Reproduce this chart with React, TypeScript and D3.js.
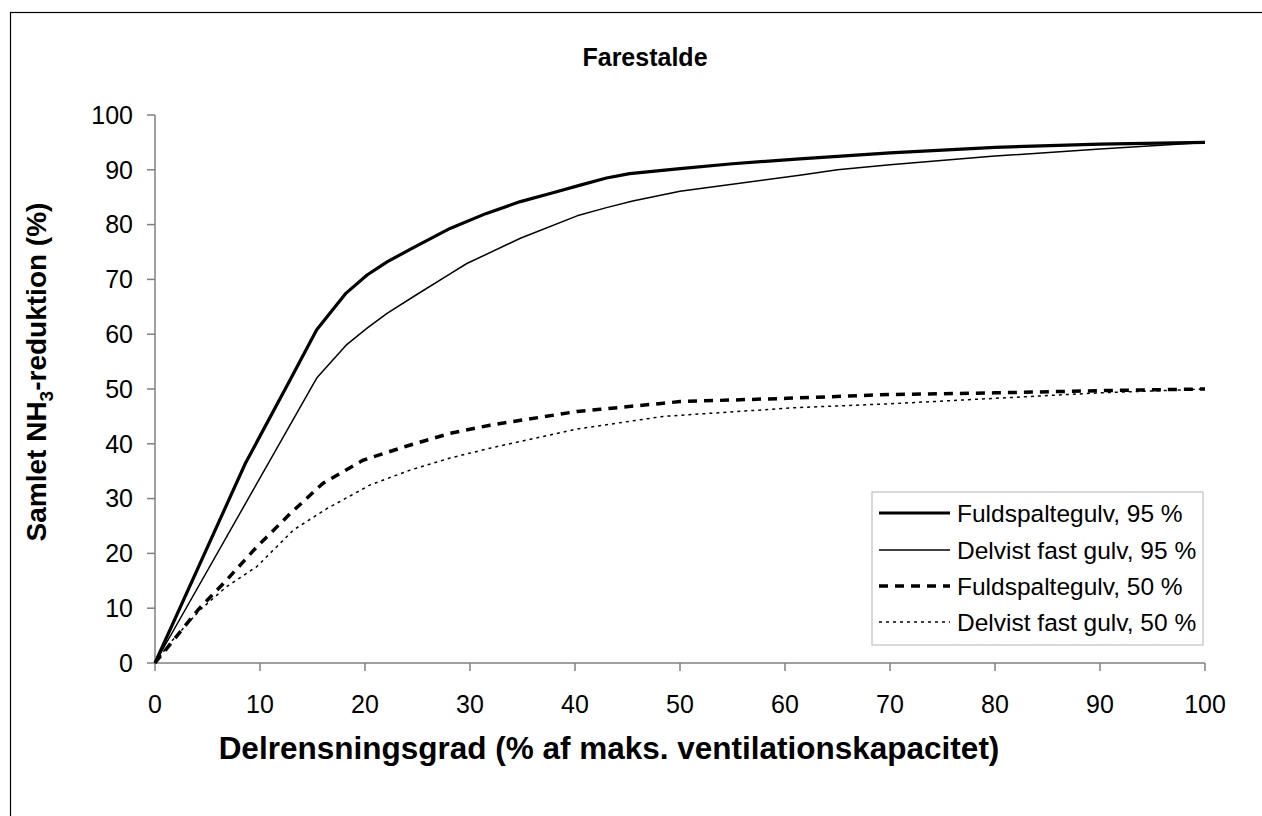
import React from "react";
import * as d3 from "d3";

const title = "Farestalde";
const xTitle = "Delrensningsgrad (% af maks. ventilationskapacitet)";
const xTicks = [0, 10, 20, 30, 40, 50, 60, 70, 80, 90, 100];
const yTicks = [0, 10, 20, 30, 40, 50, 60, 70, 80, 90, 100];

const fuld95: [number, number][] = [
  [0, 0], [8.6, 36.4], [12.9, 51.8], [15.4, 60.8], [18.2, 67.5], [20.2, 70.8], [22.1, 73.2],
  [24.7, 75.9], [28.1, 79.3], [31.5, 82], [34.8, 84.2], [37.9, 85.8], [40.5, 87.2], [43, 88.5],
  [45.2, 89.3], [50, 90.2], [55, 91.1], [61.4, 92], [70, 93.1], [80, 94.1], [90, 94.7], [100, 95],
];
const delvist95: [number, number][] = [
  [0, 0], [15.4, 52], [18.2, 58], [20.2, 61.1], [22.1, 63.8], [24.9, 67.2], [28.1, 71], [29.7, 72.9],
  [34.8, 77.5], [40.2, 81.6], [43, 83.1], [45.5, 84.3], [50, 86.1], [61.4, 89], [65, 90], [70, 90.9],
  [80, 92.5], [90, 93.8], [100, 95],
];
const fuld50: [number, number][] = [
  [0, 0], [4.1, 9.7], [6.8, 15.1], [9.7, 21.2], [12.9, 27.3], [16, 32.8], [19.8, 37], [24, 39.6],
  [28.1, 41.9], [31.9, 43.4], [40.2, 45.9], [42.4, 46.3], [48.4, 47.4], [50, 47.7], [60.2, 48.3],
  [70, 49], [80, 49.3], [90, 49.7], [100, 50],
];
const delvist50: [number, number][] = [
  [0, 0], [1.4, 3.6], [4.3, 9.7], [6.8, 13.9], [9.7, 17.6], [13.2, 24.3], [16.4, 28.2], [20.5, 32.5],
  [24.3, 35.2], [28.1, 37.4], [31.9, 39.2], [40.2, 42.7], [48.4, 45], [61.1, 46.6], [70, 47.3],
  [80, 48.3], [90, 49.3], [100, 50],
];

const seriesNames = [
  "Fuldspaltegulv, 95 %",
  "Delvist fast gulv, 95 %",
  "Fuldspaltegulv, 50 %",
  "Delvist fast gulv, 50 %",
];
const seriesData = [fuld95, delvist95, fuld50, delvist50];
const seriesStyle = [
  { w: 3.2, dash: "" },
  { w: 1.5, dash: "" },
  { w: 3.5, dash: "9,7" },
  { w: 1.5, dash: "3,4" },
];

export default function App() {
  const left = 155, right = 1205, top = 115, bottom = 663;
  const x = d3.scaleLinear().domain([0, 100]).range([left, right]);
  const y = d3.scaleLinear().domain([0, 100]).range([bottom, top]);
  const line = d3.line<[number, number]>().x(d => x(d[0])).y(d => y(d[1]));
  const font = "Liberation Sans, Arial, sans-serif";
  const axisColor = "#808080";
  const legendX = 872, legendY = 492, legendW = 331, legendH = 153;
  const legendRowY = [513, 550, 586, 622];

  return (
    <svg width={1262} height={816} style={{ position: "absolute", left: 0, top: 0 }} fontFamily={font}>
      <rect x={0} y={0} width={1262} height={816} fill="#fff" />
      <rect x={10.5} y={12.5} width={1300} height={900} fill="none" stroke="#000" strokeWidth={1.2} />
      <text x={645} y={57} dy="0.35em" textAnchor="middle" fontSize={25} fontWeight="bold">{title}</text>

      {/* axes */}
      <line x1={left} y1={top} x2={left} y2={bottom} stroke={axisColor} strokeWidth={1.5} />
      <line x1={left} y1={bottom} x2={right} y2={bottom} stroke={axisColor} strokeWidth={1.5} />
      {yTicks.map(t => (
        <g key={"y" + t}>
          <line x1={left - 8} x2={left} y1={y(t)} y2={y(t)} stroke={axisColor} strokeWidth={1.5} />
          <text x={133} y={y(t)} dy="0.35em" textAnchor="end" fontSize={25}>{t}</text>
        </g>
      ))}
      {xTicks.map(t => (
        <g key={"x" + t}>
          <line x1={x(t)} x2={x(t)} y1={bottom} y2={bottom + 8} stroke={axisColor} strokeWidth={1.5} />
          <text x={x(t)} y={704} dy="0.35em" textAnchor="middle" fontSize={25}>{t}</text>
        </g>
      ))}
      <text x={609} y={748} dy="0.35em" textAnchor="middle" fontSize={31.5} fontWeight="bold">{xTitle}</text>
      <text transform={`translate(36,${372}) rotate(-90)`} dy="0.35em" textAnchor="middle" fontSize={28} fontWeight="bold">
        Samlet NH<tspan fontSize={19} dy={7}>3</tspan><tspan dy={-7}>-reduktion (%)</tspan>
      </text>

      {/* series */}
      {seriesData.map((d, i) => (
        <path key={i} d={line(d) || ""} fill="none" stroke="#000" strokeWidth={seriesStyle[i].w}
          strokeDasharray={seriesStyle[i].dash || undefined} strokeLinejoin="round" />
      ))}

      {/* legend */}
      <rect x={legendX} y={legendY} width={legendW} height={legendH} fill="#fff" stroke="#c0c0c0" strokeWidth={1.2} />
      {seriesNames.map((n, i) => (
        <g key={n}>
          <line x1={879} x2={950} y1={legendRowY[i]} y2={legendRowY[i]} stroke="#000"
            strokeWidth={seriesStyle[i].w} strokeDasharray={seriesStyle[i].dash || undefined} />
          <text x={957} y={legendRowY[i]} dy="0.35em" fontSize={24.5}>{n}</text>
        </g>
      ))}
    </svg>
  );
}
